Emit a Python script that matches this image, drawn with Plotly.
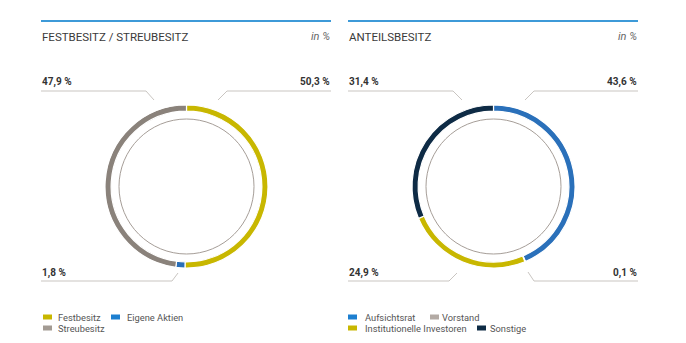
import plotly.graph_objects as go

W, H = 686, 343

# ---- data ----
left_title = "FESTBESITZ / STREUBESITZ"
left_labels = ["Festbesitz", "Eigene Aktien", "Streubesitz"]
left_values = [50.3, 1.8, 47.9]
left_colors = ["#c8b700", "#2a6fb8", "#8a827b"]
left_legend_colors = ["#c8b700", "#1d7fd0", "#a39b93"]

right_title = "ANTEILSBESITZ"
right_labels = ["Aufsichtsrat", "Vorstand", "Institutionelle Investoren", "Sonstige"]
right_values = [43.6, 0.1, 24.9, 31.4]
right_colors = ["#2a70ba", "#b3aaa4", "#c8b700", "#0e2b45"]
right_legend_colors = ["#1d7fd0", "#b3aaa4", "#c8b700", "#0e2b45"]

unit_text = "in %"


def fmt(v):
    return f"{v:.1f}".replace(".", ",") + " %"


def px_x(x):
    return x / W


def px_y(y):
    return 1 - y / H


FONT = "Roboto"
fig = go.Figure()

panels = [
    dict(title=left_title, labels=left_labels, values=left_values, colors=left_colors,
         lcolors=left_legend_colors, cx=186.5, x0=41, x1=331,
         legend_pos=[(43, 317, 57), (111, 317, 126), (43, 328, 57)],
         slots=[(0, "right", "top", 227, 218, 100),
                (2, "left", "top", 146, 154, 100),
                (1, "left", "bottom", 172, 178, 273)]),
    dict(title=right_title, labels=right_labels, values=right_values, colors=right_colors,
         lcolors=right_legend_colors, cx=493.5, x0=348, x1=638,
         legend_pos=[(348, 317, 364), (430, 317, 441), (348, 328, 364), (477, 328, 489)],
         slots=[(0, "right", "top", 534, 525, 100),
                (3, "left", "top", 453, 462, 100),
                (2, "left", "bottom", 449, 457, 273),
                (1, "right", "bottom", 534, 528, 272)]),
]

cy = 186.5
R = 81.5
Rin = 67.5

shapes = []
annotations = []
for p in panels:
    fig.add_trace(go.Pie(
        labels=p["labels"], values=p["values"], sort=False, direction="clockwise",
        rotation=0, hole=0.925, textinfo="none", hoverinfo="skip", showlegend=False,
        marker=dict(colors=p["colors"], line=dict(color="white", width=1.2)),
        domain=dict(x=[px_x(p["cx"] - R), px_x(p["cx"] + R)],
                    y=[px_y(cy + R), px_y(cy - R)]),
    ))
    shapes.append(dict(type="circle", xref="paper", yref="paper",
                       x0=px_x(p["cx"] - Rin), x1=px_x(p["cx"] + Rin),
                       y0=px_y(cy + Rin), y1=px_y(cy - Rin),
                       line=dict(color="#a69e98", width=1)))
    shapes.append(dict(type="line", xref="paper", yref="paper",
                       x0=px_x(p["x0"]), x1=px_x(p["x1"]), y0=px_y(21), y1=px_y(21),
                       line=dict(color="#3d9ad8", width=2)))
    annotations.append(dict(text=p["title"], xref="paper", yref="paper",
                            x=px_x(p["x0"] - 1), y=px_y(36.5), xanchor="left", yanchor="middle",
                            showarrow=False, font=dict(family=FONT, size=11.5, color="#3a3a3a")))
    annotations.append(dict(text="<i>" + unit_text + "</i>", xref="paper", yref="paper",
                            x=px_x(p["x1"] + 1), y=px_y(36.5), xanchor="right", yanchor="middle",
                            showarrow=False, font=dict(family=FONT, size=11, color="#666666")))
    for idx, side, pos, lx, dx, dy in p["slots"]:
        ly = 91 if pos == "top" else 281
        ty = 82 if pos == "top" else 272.5
        edge = p["x0"] if side == "left" else p["x1"]
        shapes.append(dict(type="line", xref="paper", yref="paper",
                           x0=px_x(edge), x1=px_x(lx), y0=px_y(ly), y1=px_y(ly),
                           line=dict(color="#c9c5c1", width=1)))
        shapes.append(dict(type="line", xref="paper", yref="paper",
                           x0=px_x(lx), x1=px_x(dx), y0=px_y(ly), y1=px_y(dy),
                           line=dict(color="#c9c5c1", width=1)))
        annotations.append(dict(text="<b>" + fmt(p["values"][idx]) + "</b>", xref="paper", yref="paper",
                                x=px_x(edge + (-1 if side == "left" else 1)), y=px_y(ty),
                                xanchor="left" if side == "left" else "right", yanchor="middle",
                                showarrow=False, font=dict(family=FONT, size=10, color="#333333")))
    for lab, col, (sx, sy, tx) in zip(p["labels"], p["lcolors"], p["legend_pos"]):
        shapes.append(dict(type="rect", xref="paper", yref="paper",
                           x0=px_x(sx), x1=px_x(sx + 9), y0=px_y(sy + 2.5), y1=px_y(sy - 2.5),
                           fillcolor=col, line=dict(width=0)))
        annotations.append(dict(text=lab, xref="paper", yref="paper",
                                x=px_x(tx - 1), y=px_y(sy), xanchor="left", yanchor="middle",
                                showarrow=False, font=dict(family=FONT, size=9.3, color="#555555")))

fig.update_layout(
    width=W, height=H, margin=dict(l=0, r=0, t=0, b=0),
    paper_bgcolor="white", plot_bgcolor="white",
    shapes=shapes, annotations=annotations, showlegend=False,
)

fig.write_html("out.html", config={"displayModeBar": False})
